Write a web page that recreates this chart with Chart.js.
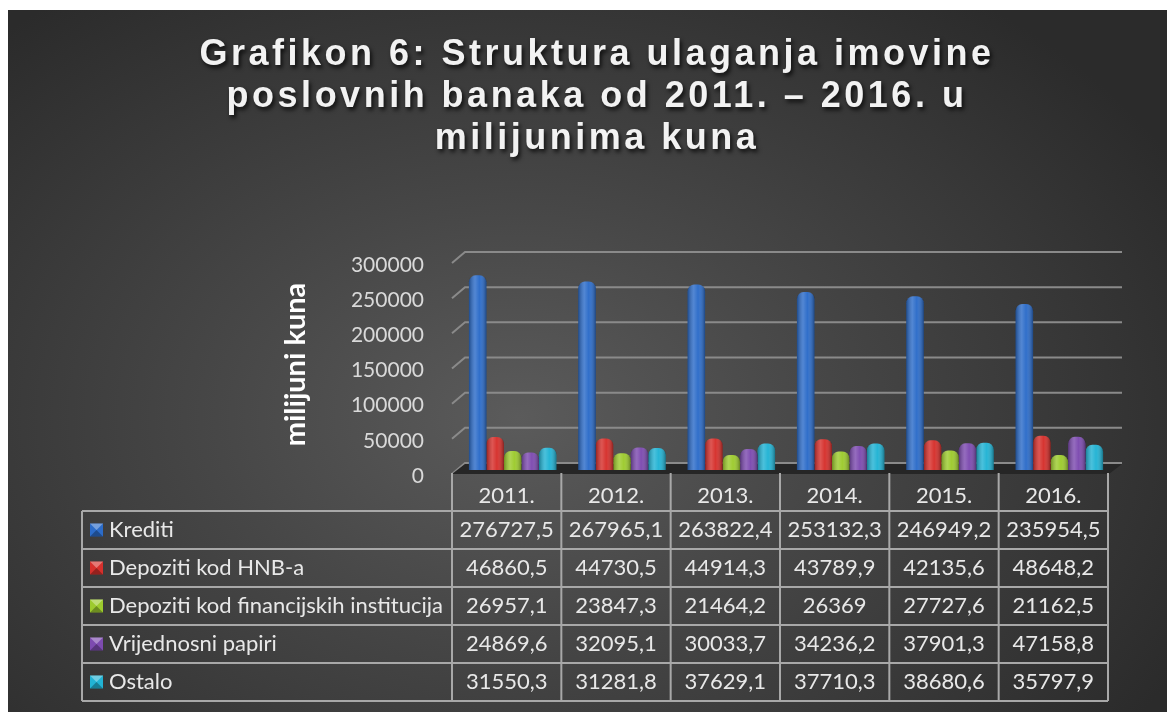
<!DOCTYPE html>
<html>
<head>
<meta charset="utf-8">
<title>Grafikon 6</title>
<script src="https://cdn.jsdelivr.net/npm/chart.js"></script>
<style>
  html, body { margin: 0; padding: 0; background: #fff; overflow: hidden; }
  #bg { position: absolute; left: 8px; top: 10px; width: 1159px; height: 702px;
        background: radial-gradient(ellipse 65% 75% at 44% 58%, #5b5b5b 0%, #474747 40%, #2b2b2b 100%); }
  #wrap { position: absolute; left: 0; top: 0; width: 1167px; height: 712px; }
</style>
</head>
<body>
<div id="bg"></div>
<div id="wrap"><canvas id="chart"></canvas></div>
<script>
// data
const years = ['2011.', '2012.', '2013.', '2014.', '2015.', '2016.'];
const krediti = [276727.5, 267965.1, 263822.4, 253132.3, 246949.2, 235954.5];
const depozitiHnb = [46860.5, 44730.5, 44914.3, 43789.9, 42135.6, 48648.2];
const depozitiFin = [26957.1, 23847.3, 21464.2, 26369, 27727.6, 21162.5];
const vrijednosni = [24869.6, 32095.1, 30033.7, 34236.2, 37901.3, 47158.8];
const ostalo = [31550.3, 31281.8, 37629.1, 37710.3, 38680.6, 35797.9];
const yTicks = [0, 50000, 100000, 150000, 200000, 250000, 300000];
const titleLines = ['Grafikon 6: Struktura ulaganja imovine', 'poslovnih banaka od 2011. \u2013 2016. u', 'milijunima kuna'];

const colors = ['#2c6cc9', '#d6302c', '#9dcb2e', '#7d4bb0', '#22b3d4'];

// number in table: decimal comma, no grouping
function fmt(v) { return String(v).replace('.', ','); }

// title with letter spacing and shadow
const titlePlugin = {
  id: 'bigTitle',
  afterDraw(chart) {
    const ctx = chart.ctx;
    ctx.save();
    ctx.font = 'bold 36px "Liberation Sans", Arial, sans-serif';
    ctx.letterSpacing = '3.5px';
    ctx.textAlign = 'center';
    ctx.textBaseline = 'alphabetic';
    ctx.fillStyle = '#f2f2f2';
    ctx.shadowColor = 'rgba(0,0,0,0.75)';
    ctx.shadowOffsetX = 2;
    ctx.shadowOffsetY = 3;
    ctx.shadowBlur = 4;
    titleLines.forEach((t, i) => ctx.fillText(t, 597, 65 + i * 42));
    ctx.restore();
  }
};

// 3D-ish back wall grid and floor
const wallPlugin = {
  id: 'wall',
  beforeDatasetsDraw(chart) {
    const ctx = chart.ctx, y = chart.scales.y, area = chart.chartArea;
    const l = area.left - 6, r = area.right + 8;
    ctx.save();
    ctx.strokeStyle = '#8a8a8a';
    ctx.lineWidth = 2;
    yTicks.forEach(v => {
      const py = y.getPixelForValue(v);
      ctx.beginPath();
      ctx.moveTo(l, py + 4);
      ctx.lineTo(l + 13, py - 7);
      ctx.lineTo(r, py - 7);
      ctx.stroke();
    });
    // floor
    const p0 = y.getPixelForValue(0);
    ctx.fillStyle = '#262626';
    ctx.beginPath();
    ctx.moveTo(l, p0 + 4);
    ctx.lineTo(l + 13, p0 - 6);
    ctx.lineTo(r, p0 - 6);
    ctx.lineTo(r - 13, p0 + 4);
    ctx.closePath();
    ctx.fill();
    ctx.restore();
  },
  afterDatasetsDraw(chart) {
    // cylinder shading over each bar
    const ctx = chart.ctx;
    ctx.save();
    chart.data.datasets.forEach((ds, di) => {
      chart.getDatasetMeta(di).data.forEach(bar => {
        const w = bar.width, x0 = bar.x - w / 2;
        const g = ctx.createLinearGradient(x0, 0, x0 + w, 0);
        g.addColorStop(0, 'rgba(0,0,0,0.30)');
        g.addColorStop(0.35, 'rgba(255,255,255,0.18)');
        g.addColorStop(0.6, 'rgba(255,255,255,0.02)');
        g.addColorStop(1, 'rgba(0,0,0,0.35)');
        ctx.fillStyle = g;
        ctx.beginPath();
        ctx.roundRect(x0, bar.y, w, bar.base - bar.y, [6, 6, 0, 0]);
        ctx.fill();
      });
    });
    ctx.restore();
  }
};

// data table under the chart
const tablePlugin = {
  id: 'dataTable',
  afterDraw(chart) {
    const ctx = chart.ctx, area = chart.chartArea;
    const colW = (area.right - area.left) / years.length;
    const colLeft = i => area.left - 6 + i * colW;
    const headTop = 473, rowTop = 511, rowH = 38, legLeft = 82;
    const rows = chart.data.datasets;
    const bottom = rowTop + rows.length * rowH;
    ctx.save();
    ctx.strokeStyle = '#a8a8a8';
    ctx.lineWidth = 2;
    ctx.beginPath();
    for (let i = 0; i <= rows.length; i++) {
      ctx.moveTo(legLeft, rowTop + i * rowH);
      ctx.lineTo(colLeft(years.length), rowTop + i * rowH);
    }
    ctx.moveTo(legLeft, rowTop);
    ctx.lineTo(legLeft, bottom);
    for (let i = 0; i <= years.length; i++) {
      ctx.moveTo(colLeft(i), headTop);
      ctx.lineTo(colLeft(i), bottom);
    }
    ctx.stroke();

    ctx.font = '22px Lato, sans-serif';
    ctx.fillStyle = '#e8e8e8';
    ctx.textBaseline = 'middle';
    ctx.textAlign = 'center';
    years.forEach((yr, i) => ctx.fillText(yr, colLeft(i) + colW / 2, 496));
    rows.forEach((ds, r) => {
      const cy = rowTop + r * rowH + rowH / 2;
      ds.data.forEach((v, i) => ctx.fillText(fmt(v), colLeft(i) + colW / 2, cy));
    });
    ctx.textAlign = 'left';
    rows.forEach((ds, r) => {
      const cy = rowTop + r * rowH + rowH / 2;
      // legend key
      const kx = 90, ky = cy - 6.5, s = 13;
      ctx.fillStyle = ds.backgroundColor;
      ctx.fillRect(kx, ky, s, s);
      ctx.fillStyle = 'rgba(255,255,255,0.35)';
      ctx.beginPath();
      ctx.moveTo(kx, ky); ctx.lineTo(kx + s, ky); ctx.lineTo(kx + s / 2, ky + s / 2); ctx.closePath();
      ctx.fill();
      ctx.fillStyle = 'rgba(0,0,0,0.3)';
      ctx.beginPath();
      ctx.moveTo(kx, ky + s); ctx.lineTo(kx + s, ky + s); ctx.lineTo(kx + s / 2, ky + s / 2); ctx.closePath();
      ctx.fill();
      ctx.fillStyle = '#e8e8e8';
      ctx.fillText(ds.label, 109, cy);
    });
    ctx.restore();
  }
};

const ctx = document.getElementById('chart').getContext('2d');
new Chart(ctx, {
  type: 'bar',
  data: {
    labels: years,
    datasets: [
      { label: 'Krediti', data: krediti, backgroundColor: colors[0] },
      { label: 'Depoziti kod HNB-a', data: depozitiHnb, backgroundColor: colors[1] },
      { label: 'Depoziti kod financijskih institucija', data: depozitiFin, backgroundColor: colors[2] },
      { label: 'Vrijednosni papiri', data: vrijednosni, backgroundColor: colors[3] },
      { label: 'Ostalo', data: ostalo, backgroundColor: colors[4] }
    ]
  },
  options: {
    responsive: true,
    maintainAspectRatio: false,
    animation: false,
    layout: { padding: { left: 278, right: 53, top: 259, bottom: 242 } },
    datasets: {
      bar: {
        categoryPercentage: 0.8,
        barPercentage: 1.0,
        borderRadius: { topLeft: 7, topRight: 7 },
        borderSkipped: 'bottom'
      }
    },
    plugins: {
      legend: { display: false },
      title: { display: false },
      tooltip: { enabled: false }
    },
    scales: {
      x: { display: false, offset: true },
      y: {
        min: 0,
        max: 300000,
        afterFit(scale) { scale.width = 180; },
        afterBuildTicks(scale) { scale.ticks = yTicks.map(v => ({ value: v })); },
        grid: { display: false },
        border: { display: false },
        ticks: {
          color: '#d9d9d9',
          font: { family: 'Lato', size: 21 },
          padding: 26,
          labelOffset: 6,
          callback: v => String(v)
        },
        title: {
          display: true,
          text: 'milijuni kuna',
          color: '#ffffff',
          font: { family: 'Lato', size: 29, weight: 'bold' },
          padding: 0
        }
      }
    }
  },
  plugins: [wallPlugin, tablePlugin, titlePlugin]
});
</script>
</body>
</html>
